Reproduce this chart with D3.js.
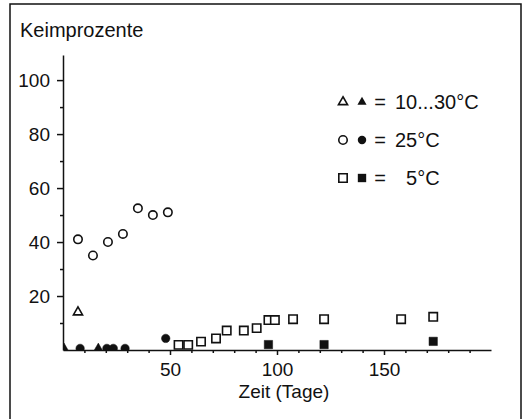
<!DOCTYPE html>
<html>
<head>
<meta charset="utf-8">
<script src="https://cdn.jsdelivr.net/npm/d3@7"></script>
<style>
    body { margin: 0; background: white; }
    text { font-family: "Liberation Sans", Arial, sans-serif; fill: #111; }
</style>
</head>
<body>
<div id="chart"></div>
<script>
// open = emergence, filled = not germinated
const triangleOpen = [[7, 14]];
const triangleFilled = [[0.5, 0.6], [16.5, 0.6]];
const circleOpen = [[7, 41], [14, 35], [21, 40], [28, 43], [35, 52.5], [42, 50], [49, 51]];
const circleFilled = [[8, 0.6], [20.5, 0.6], [23.5, 0.6], [29, 0.6], [48, 4.3]];
const squareOpen = [[54, 1.9], [58.5, 1.9], [64.5, 3.1], [71.5, 4.3], [76.5, 7.2], [84.5, 7.2],
    [90.5, 8.1], [96, 11.1], [99, 11.1], [107.5, 11.4], [122, 11.4], [158, 11.4], [173, 12.3]];
const squareFilled = [[96, 2], [122, 2], [173, 3.2]];

const yTicks = [20, 40, 60, 80, 100];
const yMinor = [10, 30, 50, 70, 90];
const xTicks = [50, 100, 150];
const xMinor = [10, 20, 30, 40, 60, 70, 80, 90, 110, 120, 130, 140, 160, 170, 180, 190];
const legendLabels = ["10...30°C", "25°C", "  5°C"];

const width = 526;
const height = 419;

const x = d3.scaleLinear().domain([0, 200]).range([63, 491]);
const y = d3.scaleLinear().domain([0, 109.3]).range([350, 55]);

const shapes = {
    triangle: d3.symbol().type(d3.symbolTriangle).size(36)(),
    circle: d3.symbol().type(d3.symbolCircle).size(56)(),
    square: d3.symbol().type(d3.symbolSquare).size(70)(),
};

const svg = d3.select("#chart").append("svg")
    .attr("width", width)
    .attr("height", height);

// frame
svg.append("path")
    .attr("d", "M10,425V4H521V425")
    .attr("fill", "none")
    .attr("stroke", "#111")
    .attr("stroke-width", 1.5);

svg.append("text")
    .text("Keimprozente")
    .attr("x", 20)
    .attr("y", 37)
    .style("font-size", "20px");

// axes
svg.append("g")
    .attr("transform", `translate(${x(0)},0)`)
    .call(d3.axisLeft(y).tickValues(yTicks).tickSize(6).tickSizeOuter(0).tickPadding(7));

svg.append("g")
    .attr("transform", `translate(${x(0)},0)`)
    .call(d3.axisLeft(y).tickValues(yMinor).tickSize(3).tickSizeOuter(0).tickFormat(""))
    .select(".domain").remove();

svg.append("g")
    .attr("transform", `translate(0,${y(0)})`)
    .call(d3.axisBottom(x).tickValues(xTicks).tickSize(5).tickSizeOuter(0).tickPadding(7.5));

svg.append("g")
    .attr("transform", `translate(0,${y(0)})`)
    .call(d3.axisBottom(x).tickValues(xMinor).tickSize(3).tickSizeOuter(0).tickFormat(""))
    .select(".domain").remove();

svg.selectAll(".tick text").style("font-size", "19px").attr("fill", "#111");
svg.selectAll(".domain, .tick line").attr("stroke", "#111").attr("stroke-width", 1.5);

svg.append("text")
    .text("Zeit (Tage)")
    .attr("x", 284)
    .attr("y", 397.5)
    .attr("text-anchor", "middle")
    .style("font-size", "19px");

// markers sit on the axis and get cut by it
svg.append("clipPath")
    .attr("id", "plotClip")
    .append("rect")
    .attr("x", x(0))
    .attr("y", 40)
    .attr("width", x(200) - x(0))
    .attr("height", y(0) - 40);

const plot = svg.append("g").attr("clip-path", "url(#plotClip)");

function drawSeries(data, shape, filled) {
    plot.selectAll(null)
        .data(data)
        .enter()
        .append("path")
        .attr("d", shapes[shape])
        .attr("transform", d => `translate(${x(d[0])},${y(d[1])})`)
        .attr("fill", filled ? "#111" : "white")
        .attr("stroke", "#111")
        .attr("stroke-width", filled ? 0.5 : 1.6);
}

drawSeries(triangleFilled, "triangle", true);
drawSeries(circleFilled, "circle", true);
drawSeries(squareFilled, "square", true);
drawSeries(triangleOpen, "triangle", false);
drawSeries(circleOpen, "circle", false);
drawSeries(squareOpen, "square", false);

// legend
const legendShapes = ["triangle", "circle", "square"];
const legend = svg.selectAll("g.legendRow")
    .data(legendLabels)
    .enter()
    .append("g")
    .attr("class", "legendRow")
    .attr("transform", (d, i) => `translate(0,${102 + i * 38})`);

legend.append("path")
    .attr("d", (d, i) => shapes[legendShapes[i]])
    .attr("transform", "translate(343,0)")
    .attr("fill", "white")
    .attr("stroke", "#111")
    .attr("stroke-width", 1.6);

legend.append("path")
    .attr("d", (d, i) => shapes[legendShapes[i]])
    .attr("transform", "translate(362,0)")
    .attr("fill", "#111");

legend.append("text")
    .text("=")
    .attr("x", 380)
    .attr("dy", "0.35em")
    .attr("text-anchor", "middle")
    .style("font-size", "20px");

legend.append("text")
    .text(d => d)
    .attr("x", 395)
    .attr("dy", "0.35em")
    .style("white-space", "pre")
    .style("font-size", "20px");
</script>
</body>
</html>
